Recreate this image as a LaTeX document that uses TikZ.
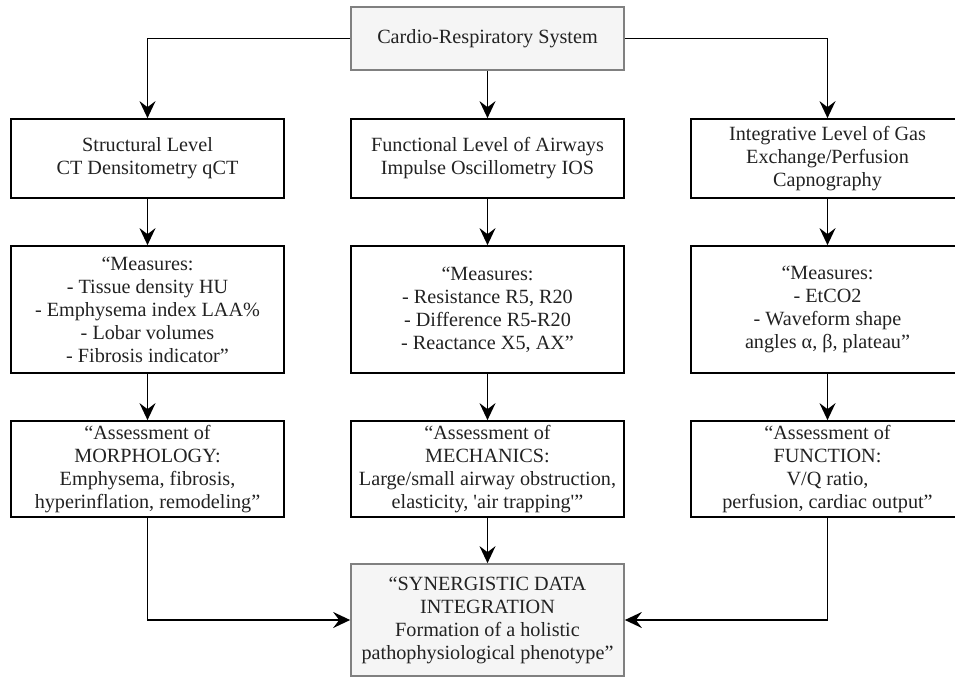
\documentclass[tikz,border=0pt]{standalone}
\usepackage{fontspec}
\setmainfont{Liberation Serif}
\usetikzlibrary{arrows.meta}
\definecolor{hubline}{HTML}{808080}
\definecolor{hubfill}{HTML}{F5F5F5}
\definecolor{inkgray}{HTML}{222222}
\tikzset{
  box/.style={draw=black, line width=1.7pt, minimum width=273pt, align=center,
    inner sep=2pt, text=inkgray, font=\fontsize{20.2}{23}\selectfont},
  hub/.style={box, draw=hubline, fill=hubfill},
  flow/.style={line width=1.7pt, -{Stealth[length=17pt,width=16pt,inset=6pt]}}
}
\begin{document}
\begin{tikzpicture}[x=1pt,y=-1pt]
    \useasboundingbox (0,0) rectangle (955,677);

    % Top level
    \node[hub, minimum height=63pt] (sys) at (487.5,38.5) {Cardio-Respiratory System};

    % Structural column
    \node[box, minimum height=79pt] (struct) at (147.5,158.5) {Structural Level\\CT Densitometry qCT};
    \node[box, minimum height=127pt] (measA) at (147.5,309.5) {“Measures:\\- Tissue density HU\\- Emphysema index LAA\%\\- Lobar volumes\\- Fibrosis indicator”};
    \node[box, minimum height=96pt] (assessA) at (147.5,469) {“Assessment of\\MORPHOLOGY:\\Emphysema, fibrosis,\\hyperinflation, remodeling”};

    % Functional column
    \node[box, minimum height=79pt] (func) at (487.5,158.5) {Functional Level of Airways\\Impulse Oscillometry IOS};
    \node[box, minimum height=127pt] (measB) at (487.5,309.5) {“Measures:\\- Resistance R5, R20\\- Difference R5-R20\\- Reactance X5, AX”};
    \node[box, minimum height=96pt] (assessB) at (487.5,469) {“Assessment of\\MECHANICS:\\Large/small airway obstruction,\\elasticity, \textquotesingle air trapping\textquotesingle”};

    % Integrative column
    \node[box, minimum height=79pt] (integ) at (827.5,158.5) {Integrative Level of Gas\\Exchange/Perfusion\\Capnography};
    \node[box, minimum height=127pt] (measC) at (827.5,309.5) {“Measures:\\- EtCO2\\- Waveform shape\\angles α, β, plateau”};
    \node[box, minimum height=96pt] (assessC) at (827.5,469) {“Assessment of\\FUNCTION:\\V/Q ratio,\\perfusion, cardiac output”};

    % Integration
    \node[hub, minimum height=112pt] (synth) at (487.5,620) {“SYNERGISTIC DATA\\INTEGRATION\\Formation of a holistic\\pathophysiological phenotype”};

    % Connectors
    \draw[flow] (sys.west) -| (struct.north);
    \draw[flow] (sys.south) -- (func.north);
    \draw[flow] (sys.east) -| (integ.north);
    \draw[flow] (struct) -- (measA);
    \draw[flow] (measA) -- (assessA);
    \draw[flow] (func) -- (measB);
    \draw[flow] (measB) -- (assessB);
    \draw[flow] (integ) -- (measC);
    \draw[flow] (measC) -- (assessC);
    \draw[flow] (assessA.south) |- (synth.west);
    \draw[flow] (assessB) -- (synth);
    \draw[flow] (assessC.south) |- (synth.east);
\end{tikzpicture}
\end{document}
